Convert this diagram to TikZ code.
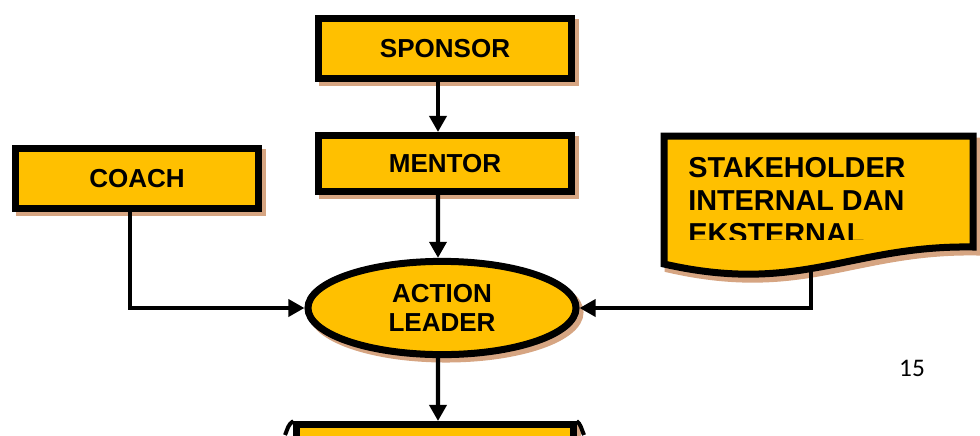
\documentclass[tikz,border=0pt]{standalone}
\usepackage{fontspec}
\setmainfont{Liberation Sans}
\newfontfamily\pagefont{Carlito}
\usetikzlibrary{shapes.geometric,shadows,arrows.meta}
\definecolor{boxfill}{RGB}{255,192,0}
\definecolor{shadowtan}{RGB}{214,165,130}
% outline of the stakeholder sheet, wavy bottom edge
\newcommand{\stakepath}{(664,136) -- (973,136) -- (973,247)
  .. controls (850,245) and (800,295) .. (664,264) -- cycle}

\begin{document}
\begin{tikzpicture}[x=0.025cm, y=-0.025cm, >={Triangle[length=0.4cm,width=0.42cm]},
  link/.style={->, line width=0.11cm},
  shade/.style={drop shadow={shadow xshift=0.1cm, shadow yshift=-0.11cm,
      fill=shadowtan, draw=shadowtan, line width=0.175cm, opacity=1}},
  box/.style={rectangle, draw, fill=boxfill, line width=0.175cm, shade,
      minimum width=6.33cm, minimum height=1.5cm,
      font=\bfseries\fontsize{18.5}{21}\selectfont},
  leader/.style={ellipse, draw, fill=boxfill, line width=0.175cm, shade,
      minimum width=6.7cm, minimum height=2.33cm, inner sep=0pt, align=center,
      font=\bfseries\fontsize{18.5}{21}\selectfont}]

  \clip (0,0) rectangle (980,435);

  \node[box] (sponsor) at (445,48.5) {SPONSOR};
  \node[box, minimum height=1.4cm] (mentor) at (445,163.5) {MENTOR};
  \node[box, minimum width=6.08cm] (coach) at (137,178.5) {COACH};
  \node[leader] (leader) at (442,308) {ACTION\\LEADER};
  \node[box, minimum width=6.9cm, minimum height=2cm] (next) at (435,464.5) {};
  % curled ends of the lower scroll
  \draw[line width=0.1cm] (next.north west) .. controls (288,424.5) and (288,428) .. (285,435);
  \draw[line width=0.1cm] (next.north east) .. controls (581,424.5) and (581,428) .. (584,435);

  % stakeholder sheet
  \draw[shadowtan, fill=shadowtan, line width=0.175cm, shift={(4,5)}] \stakepath;
  \draw[fill=boxfill, line width=0.175cm] \stakepath;
  \begin{scope}
    \clip (664,136) rectangle (973,239);
    \node[anchor=north west, inner sep=0pt, align=left,
      font=\bfseries\fontsize{20.5}{23.5}\selectfont] (stake) at (688,157)
      {STAKEHOLDER\\INTERNAL DAN\\EKSTERNAL};
  \end{scope}
  \coordinate (stakebot) at (811,268);

  \node[font=\pagefont\fontsize{18}{20}\selectfont] (pagenum) at (912,368) {15};

  \draw[link] ([xshift=-0.175cm]sponsor.south) -- ([xshift=-0.175cm]mentor.north);
  \draw[link] ([xshift=-0.175cm]mentor.south) -- ([xshift=-0.1cm]leader.north);
  \draw[link] ([xshift=-0.1cm]leader.south) -- ([xshift=0.075cm]next.north);
  \draw[link] ([xshift=-0.175cm]coach.south) |- (leader.west);
  \draw[link] (stakebot) |- (leader.east);

\end{tikzpicture}
\end{document}
